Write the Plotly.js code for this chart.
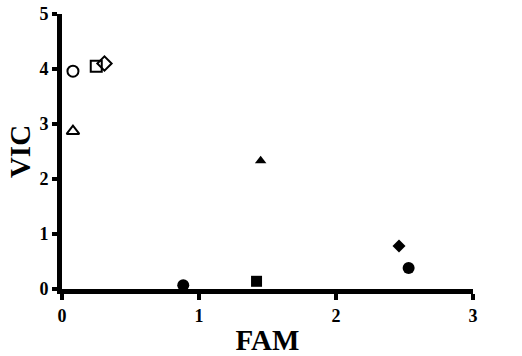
<!DOCTYPE html>
<html>
<head>
<meta charset="utf-8">
<script src="https://cdn.plot.ly/plotly-3.0.1.min.js"></script>
<style>html,body{margin:0;padding:0;background:#fff;}#chart{width:522px;height:356px;}</style>
</head>
<body>
<div id="chart"></div>
<script>
// Data
const famOpen = [0.08, 0.08, 0.25, 0.31];
const vicOpen = [3.96, 2.87, 4.05, 4.10];
const symOpen = ['circle-open', 'triangle-up-open', 'square-open', 'diamond-open'];

const famFilled = [0.885, 1.42, 1.45, 2.46, 2.53];
const vicFilled = [0.07, 0.14, 2.33, 0.78, 0.38];
const symFilled = ['circle', 'square', 'triangle-up', 'diamond', 'circle'];

const xTicks = [0, 1, 2, 3];
const yTicks = [0, 1, 2, 3, 4, 5];

const fontFam = '"Liberation Serif", "Times New Roman", serif';
const ink = 'rgb(0,0,0)';

const traces = [
  {
    x: famOpen, y: vicOpen, type: 'scatter', mode: 'markers',
    marker: { symbol: symOpen, size: 11, color: ink, opacity: 1, line: { color: ink, width: 2 } },
    showlegend: false
  },
  {
    x: famFilled, y: vicFilled, type: 'scatter', mode: 'markers',
    marker: { symbol: symFilled, size: [12, 11, 10, 10, 12], color: ink, opacity: 1, line: { width: 0 } },
    showlegend: false
  }
];

const layout = {
  width: 522, height: 356,
  margin: { l: 62, r: 49, t: 14, b: 67 },
  paper_bgcolor: '#fff', plot_bgcolor: '#fff',
  font: { family: fontFam, color: ink },
  xaxis: {
    range: [0, 3], tickvals: xTicks, ticktext: xTicks.map(v => '<b>' + v + '</b>'),
    showline: true, linecolor: ink, linewidth: 5,
    ticks: 'outside', ticklen: 6, tickwidth: 4, tickcolor: ink,
    showgrid: false, zeroline: false,
    tickfont: { family: fontFam, size: 18, color: ink, weight: 'bold' },
    title: { text: '<b>FAM</b>', font: { family: fontFam, size: 29, color: ink }, standoff: 8 }
  },
  yaxis: {
    range: [0, 5], tickvals: yTicks, ticktext: yTicks.map(v => '<b>' + v + '</b>'),
    showline: true, linecolor: ink, linewidth: 5,
    ticks: 'outside', ticklen: 5, tickwidth: 4, tickcolor: ink,
    showgrid: false, zeroline: false,
    tickfont: { family: fontFam, size: 18, color: ink, weight: 'bold' },
    title: { text: '<b>VIC</b>', font: { family: fontFam, size: 29, color: ink }, standoff: 2 }
  }
};

Plotly.newPlot('chart', traces, layout, { displayModeBar: false });
</script>
</body>
</html>
